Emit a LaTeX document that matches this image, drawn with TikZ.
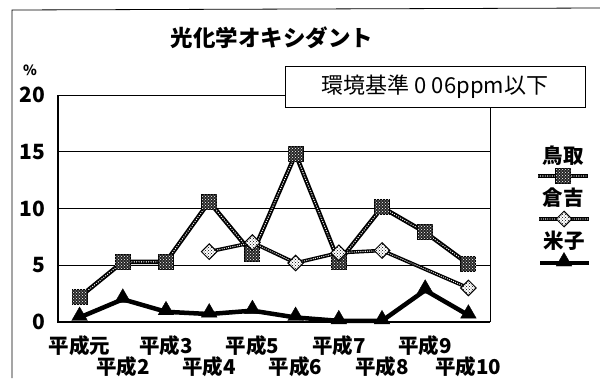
\documentclass[tikz,border=0pt]{standalone}
\usepackage{fontspec}
\setmainfont{Noto Sans CJK JP}
\usetikzlibrary{patterns,shapes.geometric}

\tikzstyle{sqmark} = [draw, line width=1pt, rectangle, fill=black!85,
    minimum size=15pt, inner sep=0pt,
    postaction={pattern=crosshatch dots, pattern color=white}]
\tikzstyle{dmmark} = [draw, line width=1pt, diamond, fill=white,
    minimum size=16pt, inner sep=0pt,
    postaction={pattern=crosshatch dots, pattern color=black}]
\tikzstyle{trmark} = [draw, fill=black, regular polygon, regular polygon sides=3,
    minimum size=18pt, inner sep=0pt]
\tikzstyle{chainline} = [white, line width=1.4pt, line cap=round,
    dash pattern=on 0pt off 2.4pt,
    preaction={draw=black, line width=4.4pt, solid, line cap=butt}]
\tikzstyle{chainthin} = [white, line width=1.3pt, line cap=round,
    dash pattern=on 0pt off 2.2pt,
    preaction={draw=black, line width=3.6pt, solid, line cap=butt}]
\tikzstyle{solidline} = [black, line width=4.5pt, line join=miter]
\tikzstyle{ticklabel} = [font=\fontsize{21}{21}\bfseries\selectfont, inner sep=0pt]
\tikzstyle{yearlabel} = [font=\fontsize{20.5}{20.5}\bfseries\selectfont, inner sep=0pt]
\tikzstyle{legendlabel} = [font=\fontsize{20.5}{20.5}\bfseries\selectfont, inner sep=0pt]

\begin{document}
\begin{tikzpicture}[x=1pt, y=-1pt]
    \useasboundingbox (0,0) rectangle (600,378);
    % outer frame
    \coordinate (frameA) at (12,378);
    \coordinate (frameB) at (12,10);
    \coordinate (frameC) at (600,8);
    \draw [line width=0.8pt] (frameA) -- (frameB) -- (frameC);

    \node [font=\fontsize{22.5}{22.5}\bfseries\selectfont] (title) at (272,38) {光化学オキシダント};
    \node [font=\fontsize{14}{14}\bfseries\selectfont] (pct) at (30,70) {\%};

    \begin{scope}[shift={(58,322)}, x=43.2pt, y=11.35pt]
        % grid and axes
        \foreach \v in {5,10,15,20} {
            \coordinate (gl\v) at (0,\v);
            \coordinate (gr\v) at (10,\v);
            \draw [line width=0.7pt] (gl\v) -- (gr\v);
        }
        \coordinate (origin) at (0,0);
        \coordinate (xend) at (10,0);
        \draw [line width=0.7pt] (xend) -- (gr20);
        \draw [line width=2.4pt] (gl20) -- (origin) -- (xend);
        \foreach \v in {0,5,10,15,20}
            \node [ticklabel, anchor=east] (yl\v) at (-0.29,\v) {\v};

        % data points
        \foreach \v [count=\i] in {2.2,5.3,5.3,10.6,6.0,14.8,5.3,10.1,7.9,5.1}
            \coordinate (t\i) at ({\i-0.5},\v);
        \foreach \v [count=\i from 4] in {6.2,7.0,5.2,6.1,6.3,4.6,3.0}
            \coordinate (k\i) at ({\i-0.5},\v);
        \foreach \v [count=\i] in {0.4,2.0,0.9,0.7,1.0,0.4,0.1,0.1,2.8,0.6}
            \coordinate (y\i) at ({\i-0.5},\v);

        % year labels
        \foreach \i/\t in {1/元,3/3,5/5,7/7,9/9}
            \node [yearlabel] (yr\i) at ({\i-0.5},-2.1) {平成\t};
        \foreach \i in {2,4,6,8,10}
            \node [yearlabel] (yr\i) at ({\i-0.5},-3.95) {平成\i};
    \end{scope}

    % standard box
    \node [draw, line width=0.9pt, fill=white, minimum width=300pt, minimum height=41pt,
        font=\fontsize{22}{22}\selectfont] (limit) at (435,87) {環境基準 0 06ppm以下};

    % Tottori
    \draw [chainline] (t1) \foreach \i in {2,...,10} { -- (t\i) };
    \foreach \i in {1,...,10}
        \node [sqmark] (tm\i) at (t\i) {};
    % Kurayoshi
    \draw [chainthin] (k4) \foreach \i in {5,...,8,10} { -- (k\i) };
    \foreach \i in {4,...,8,10}
        \node [dmmark] (km\i) at (k\i) {};
    % Yonago
    \draw [solidline] (y1) \foreach \i in {2,...,10} { -- (y\i) };
    \foreach \i in {1,...,10}
        \node [trmark, yshift=1.5pt] (ym\i) at (y\i) {};

    % legend
    \node [legendlabel] (lgt) at (563,156) {鳥取};
    \coordinate (lgtA) at (538,176);
    \coordinate (lgtB) at (588,176);
    \draw [chainline] (lgtA) -- (lgtB);
    \node [sqmark] (lgtm) at (563,176) {};

    \node [legendlabel] (lgk) at (563,198) {倉吉};
    \coordinate (lgkA) at (539,219);
    \coordinate (lgkB) at (589,219);
    \draw [chainthin] (lgkA) -- (lgkB);
    \node [dmmark] (lgkm) at (564,219) {};

    \node [legendlabel] (lgy) at (564,241) {米子};
    \coordinate (lgyA) at (540,263);
    \coordinate (lgyB) at (589,263);
    \draw [solidline] (lgyA) -- (lgyB);
    \node [trmark, yshift=1.5pt] (lgym) at (564,263) {};
\end{tikzpicture}
\end{document}
